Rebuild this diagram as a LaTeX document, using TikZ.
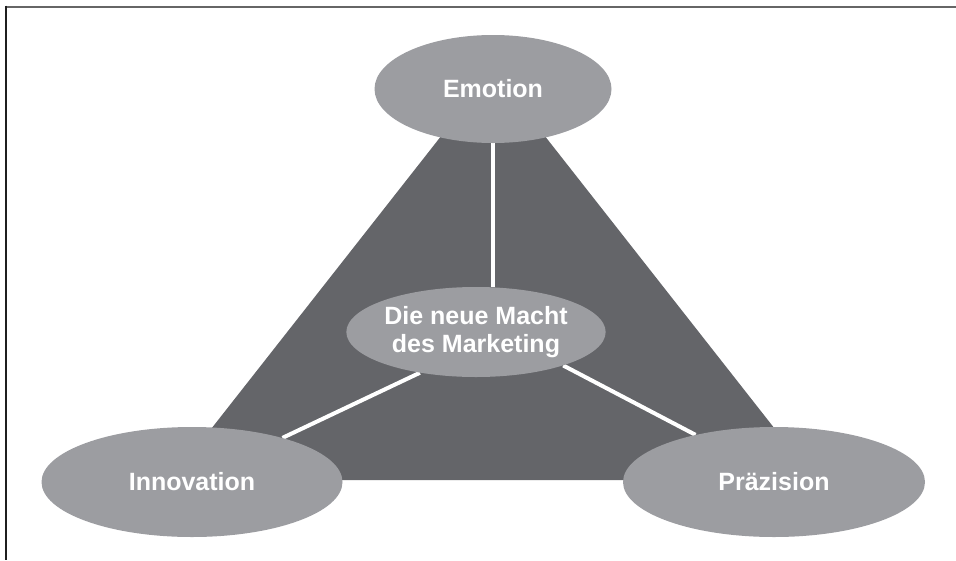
\documentclass[tikz,border=0pt]{standalone}
\usepackage{fontspec}
\setmainfont{Liberation Sans}
\usetikzlibrary{shapes.geometric,backgrounds}
\definecolor{ovalgray}{HTML}{9C9DA1}
\definecolor{trigray}{HTML}{646569}
\begin{document}
\begin{tikzpicture}[x=1pt,y=-1pt,
    oval/.style={ellipse,fill=ovalgray,text=white,inner sep=0pt,align=center,
      font=\fontsize{25}{28}\selectfont\bfseries},
    spoke/.style={draw=white,line width=4pt}]
  \useasboundingbox (0,0) rectangle (956,560);
  % frame, top and left only
  \draw[line width=2.4pt,black!60] (5,6.7) -- (956,6.7);
  \draw[line width=2.4pt,black!88] (6,5.5) -- (6,560);
  \node (emo) [oval,minimum width=237pt,minimum height=108pt] at (493,89) {Emotion};
  \node (mid) [oval,minimum width=228pt,minimum height=90pt] at (476,332) {Die neue Macht\\des Marketing};
  \node (inno) [oval,minimum width=301pt,minimum height=110pt] at (192,482) {Innovation};
  \node (prae) [oval,minimum width=302pt,minimum height=110pt] at (774,482) {Präzision};
  \begin{scope}[on background layer]
    \fill[trigray] (493,70) -- (815,480) -- (171,480) -- cycle;
    \path
    (emo.south) edge[spoke] (emo.south |- mid.north)
    (inno.26) edge[spoke] (mid.216)
    (mid.-21) edge[spoke] (prae.149);
  \end{scope}
\end{tikzpicture}
\end{document}
